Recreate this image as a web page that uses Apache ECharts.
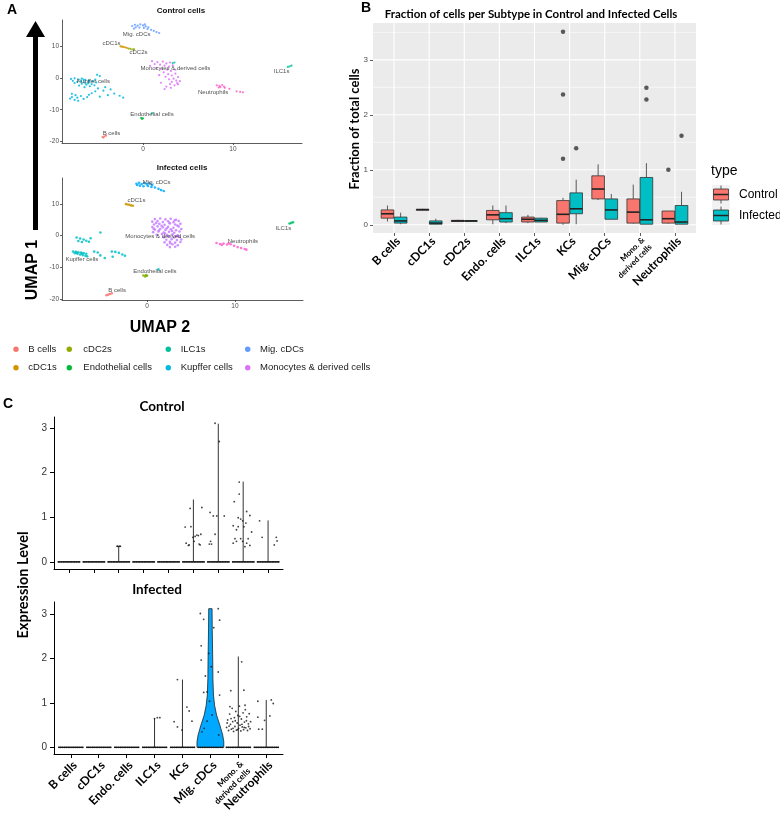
<!DOCTYPE html>
<html>
<head>
<meta charset="utf-8">
<script src="https://cdn.jsdelivr.net/npm/echarts@6/dist/echarts.min.js"></script>
<style>
html, body { margin: 0; padding: 0; background: #fff; }
#fig { width: 780px; height: 818px; }
</style>
</head>
<body>
<div id="fig"></div>
<script>
// ---------- A: UMAP ----------
var ctrlClusters = ['B cells', 'cDC1s', 'cDC2s', 'Endothelial cells', 'ILC1s', 'Kupffer cells', 'Mig. cDCs', 'Monocytes & derived cells', 'Neutrophils'];
var ctrlColors = ['#F8766D', '#D39200', '#93AA00', '#00BA38', '#00C19F', '#00B9E3', '#619CFF', '#DB72FB', '#FF61C3'];
var ctrlPts = [
  [[-4.5, -18.6], [-4.3, -18.4], [-4.1, -18.2], [-4.4, -18.8]],
  [[-2.5, 10.0], [-2.2, 9.8], [-2.0, 9.7], [-1.8, 9.5], [-2.35, 9.9]],
  [[-1.6, 9.3], [-1.4, 9.2], [-1.2, 9.0], [-1.0, 9.1]],
  [[-0.2, -12.6], [-0.1, -12.9], [0.0, -12.7]],
  [[16.3, 3.7], [16.5, 3.9], [16.1, 3.5], [3.3, 4.7], [3.5, 4.9], [1.0, -11.1]],
  [[-8.0, -0.3], [-7.6, -0.1], [-7.2, -0.4], [-6.8, -0.2], [-6.4, -0.6], [-6.0, -0.8], [-5.6, -1.0], [-5.3, -0.5],
   [-7.8, -0.9], [-7.3, -1.2], [-6.9, -1.0], [-6.5, -1.4], [-6.1, -1.7], [-5.7, -1.9], [-5.4, -2.3], [-6.3, -2.1],
   [-6.8, -1.8], [-7.1, -2.4], [-5.9, -2.6], [-6.5, -2.9], [-7.6, -1.6], [-5.2, -1.4], [-6.0, -1.2], [-6.6, -0.5],
   [-5.1, 1.0], [-4.8, 0.6], [-7.9, -5.0], [-7.5, -5.4], [-7.9, -6.0], [-7.3, -6.2], [-6.9, -5.7], [-6.6, -6.6],
   [-7.6, -6.9], [-8.1, -6.5], [-6.2, -6.0], [-6.0, -5.3], [-7.2, -7.2], [-5.7, -4.8], [-5.0, -3.3], [-4.4, -4.0],
   [-4.8, -5.9], [-3.9, -5.4], [-3.2, -4.9], [-2.6, -5.6], [-2.2, -6.2], [-5.3, -4.2], [-4.2, -2.9], [-3.6, -3.6]],
  [[-1.2, 16.4], [-0.9, 16.8], [-0.6, 16.5], [-0.3, 16.9], [0.0, 16.6], [0.3, 16.3], [0.6, 16.0], [-0.8, 16.0],
   [-0.4, 15.9], [0.1, 15.8], [0.5, 15.5], [0.9, 15.2], [1.2, 14.9], [1.5, 14.5], [1.8, 14.2], [-1.0, 15.6], [0.2, 16.9]],
  [[1.0, 5.3], [1.6, 5.0], [2.2, 5.2], [2.6, 4.6], [3.0, 4.9], [1.3, 4.4], [1.9, 4.2], [2.4, 3.9], [2.9, 3.6], [3.3, 4.0],
   [0.8, 3.8], [1.5, 3.2], [2.1, 2.9], [2.7, 2.6], [3.1, 2.2], [3.6, 2.6], [2.3, 1.8], [2.8, 1.2], [3.2, 0.8], [3.6, 1.4],
   [3.9, 0.3], [3.4, -0.2], [2.9, -0.4], [3.7, -0.8], [3.2, -1.2], [3.8, -1.6], [3.0, -1.9], [3.5, -2.3], [2.6, -2.7],
   [3.1, -3.1], [2.4, -3.5], [3.9, -2.0], [4.1, -1.0], [2.5, 0.4], [1.8, 0.9], [2.0, -1.5]],
  [[8.2, -2.3], [8.5, -2.5], [8.8, -2.2], [9.0, -2.7], [8.6, -2.9], [9.1, -3.1], [8.4, -3.0], [10.4, -4.2], [10.8, -4.4], [11.1, -4.5], [9.6, -3.4]]
];
var ctrlLabels = [[-0.7, 13.9, 'Mig. cDCs'], [-3.5, 10.9, 'cDC1s'], [-0.5, 8.0, 'cDC2s'], [3.6, 3.1, 'Monocytes & derived cells'],
  [15.4, 2.0, 'ILC1s'], [-5.5, -0.9, 'Kupffer cells'], [7.8, -4.5, 'Neutrophils'], [1.0, -11.5, 'Endothelial cells'], [-3.5, -17.4, 'B cells']];

var infClusters = ['B cells', 'cDC1s', 'Endothelial cells', 'ILC1s', 'Kupffer cells', 'Mig. cDCs', 'Monocytes & derived cells', 'Neutrophils'];
var infColors = ['#F8766D', '#CD9600', '#7CAE00', '#00BE67', '#00BFC4', '#00A9FF', '#C77CFF', '#FF61CC'];
var infPts = [
  [[-4.6, -18.7], [-4.4, -18.5], [-4.2, -18.3], [-4.0, -18.1]],
  [[-2.4, 9.9], [-2.2, 9.8], [-2.0, 9.7], [-1.8, 9.5], [-1.6, 9.4]],
  [[-0.4, -12.5], [-0.2, -12.8], [0.0, -12.6], [-0.1, -12.4]],
  [[16.4, 4.0], [16.6, 4.2], [16.2, 3.8]],
  [[-8.4, -5.0], [-8.1, -5.1], [-7.8, -5.2], [-7.5, -5.3], [-7.2, -5.5], [-6.9, -5.7], [-8.2, -5.5], [-7.9, -5.7],
   [-7.6, -5.9], [-7.3, -6.1], [-7.0, -6.3], [-6.8, -6.5], [-7.4, -5.6], [-8.0, -5.3], [-8.0, -0.6], [-7.6, -0.9],
   [-7.2, -1.2], [-6.9, -1.6], [-6.6, -1.9], [-7.8, -1.7], [-7.4, -2.0], [-6.4, -0.8], [-6.0, -5.0], [-5.6, -5.3],
   [-5.3, -6.2], [-4.8, -7.0], [-4.0, -5.0], [-3.6, -5.1], [-3.2, -5.4], [-2.8, -5.9], [-2.5, -6.3], [-3.9, -6.6],
   [-5.3, 1.0], [1.3, -10.6]],
  [[-1.2, 16.3], [-0.9, 16.6], [-0.6, 16.2], [-0.3, 16.5], [0.0, 16.1], [0.3, 16.4], [0.6, 15.9], [-0.8, 15.7],
   [-0.4, 15.5], [0.1, 15.6], [0.5, 15.3], [0.9, 15.1], [1.3, 14.7], [1.6, 14.3], [1.9, 14.0], [-1.1, 15.9]],
  [[0.9, 5.2], [1.5, 5.4], [2.1, 5.1], [2.7, 5.3], [3.3, 5.0], [0.6, 4.4], [1.2, 4.6], [1.8, 4.3], [2.4, 4.5], [3.0, 4.2],
   [3.6, 4.6], [0.8, 3.5], [1.4, 3.7], [2.0, 3.4], [2.6, 3.8], [3.2, 3.5], [3.8, 3.7], [0.6, 2.7], [1.2, 2.9], [1.8, 2.6],
   [2.4, 2.8], [3.0, 2.5], [3.6, 2.9], [0.9, 1.9], [1.5, 2.1], [2.1, 1.8], [2.7, 2.0], [3.3, 1.7], [3.9, 2.1], [0.7, 1.1],
   [1.3, 1.3], [1.9, 1.0], [2.5, 1.2], [3.1, 0.9], [3.7, 1.3], [1.1, 0.3], [1.7, 0.5], [2.3, 0.2], [2.9, 0.4], [3.5, 0.1],
   [1.9, -0.5], [2.5, -0.3], [3.1, -0.6], [3.7, -0.4], [2.2, -1.3], [2.8, -1.1], [3.4, -1.4], [3.9, -1.2], [2.0, -2.1],
   [2.6, -1.9], [3.2, -2.2], [3.8, -2.0], [2.3, -2.9], [2.9, -2.7], [3.5, -3.0], [2.6, -3.6], [3.2, -3.5], [1.05, 4.0],
   [1.65, 3.1], [2.25, 2.3], [2.85, 1.5], [3.45, 3.2], [1.35, 1.6], [2.55, 4.0], [3.15, 4.8], [0.75, 2.2], [2.05, 0.7],
   [3.35, -0.1], [2.65, -2.4]],
  [[7.9, -2.3], [8.3, -2.6], [8.7, -2.5], [9.1, -2.8], [9.5, -2.7], [8.5, -2.9], [9.9, -3.2], [10.3, -3.6], [10.7, -3.9], [11.1, -4.2], [11.3, -4.4], [9.3, -2.4]]
];
var infLabels = [[1.1, 16.7, 'Mig. cDCs'], [-1.2, 11.0, 'cDC1s'], [1.5, -0.2, 'Monocytes & derived cells'], [15.5, 2.2, 'ILC1s'],
  [10.9, -1.8, 'Neutrophils'], [-7.4, -7.5, 'Kupffer cells'], [0.9, -11.3, 'Endothelial cells'], [-3.4, -17.1, 'B cells']];

var umapYTicks = [-20, -10, 0, 10];
var umapXTicks = [0, 10];
var legendNames = ['B cells', 'cDC2s', 'ILC1s', 'Mig. cDCs', 'cDC1s', 'Endothelial cells', 'Kupffer cells', 'Monocytes & derived cells'];
var legendColors = ['#F8766D', '#93AA00', '#00C19F', '#619CFF', '#D39200', '#00BA38', '#00B9E3', '#DB72FB'];

// ---------- B: boxplots (min, q1, median, q3, max) ----------
var boxCats = ['B cells', 'cDC1s', 'cDC2s', 'Endo. cells', 'ILC1s', 'KCs', 'Mig. cDCs', 'Mono. & derived cells', 'Neutrophils'];
var boxCtrl = [
  [0.06, 0.12, 0.20, 0.27, 0.35], [0.26, 0.27, 0.275, 0.28, 0.29], [0.05, 0.06, 0.07, 0.08, 0.09],
  [0.01, 0.09, 0.18, 0.26, 0.35], [0.03, 0.05, 0.10, 0.14, 0.18], [0.00, 0.03, 0.19, 0.44, 0.49],
  [0.45, 0.47, 0.65, 0.89, 1.10], [0.02, 0.03, 0.23, 0.47, 0.73], [0.02, 0.03, 0.11, 0.25, 0.25]
];
var boxInf = [
  [0.01, 0.03, 0.07, 0.14, 0.22], [0.005, 0.01, 0.03, 0.07, 0.11], [0.06, 0.065, 0.07, 0.075, 0.08],
  [0.03, 0.05, 0.11, 0.22, 0.35], [0.05, 0.05, 0.08, 0.12, 0.13], [0.01, 0.20, 0.29, 0.58, 0.82],
  [0.10, 0.10, 0.27, 0.47, 0.56], [0.01, 0.01, 0.09, 0.86, 1.12], [0.01, 0.01, 0.05, 0.35, 0.60]
];
var outCtrl = [[6, 1.20], [6, 2.37], [6, 3.51], [9, 1.00]];
var outInf = [[6, 1.39], [8, 2.28], [8, 2.49], [9, 1.62]];
var boxMajorY = [0, 1, 2, 3];
var boxMinorY = [0.5, 1.5, 2.5, 3.5];

// ---------- C: violins ----------
var vlnCatsCtrl = ['B cells', 'cDC1s', 'cDC2s', 'Endo. cells', 'ILC1s', 'KCs', 'Mig. cDCs', 'Mono. & derived cells', 'Neutrophils'];
var vlnTopCtrl = [0, 0, 0.35, 0, 0, 1.4, 3.1, 1.8, 0.93];
var vlnCatsInf = ['B cells', 'cDC1s', 'Endo. cells', 'ILC1s', 'KCs', 'Mig. cDCs', 'Mono. & derived cells', 'Neutrophils'];
var vlnTopInf = [0, 0, 0, 0.65, 1.53, 0, 2.05, 1.07];
var migInfProfile = [[0, 0.48], [0.13, 0.48], [0.28, 0.44], [0.5, 0.34], [0.73, 0.22], [0.95, 0.15], [1.18, 0.11],
  [1.56, 0.09], [1.93, 0.085], [2.69, 0.066], [3.13, 0.06]];
var vlnTicks = [0, 1, 2, 3];
// [category (1-based), jitter, value]
var dotsCtrl = [
  [3, -0.05, 0.35], [3, 0.05, 0.35],
  [6, -0.33, 0.78], [6, -0.1, 0.79], [6, -0.13, 1.2], [6, 0.34, 1.22], [6, -0.29, 0.42], [6, -0.2, 0.37], [6, 0.03, 0.46],
  [6, 0.07, 0.57], [6, 0.14, 0.6], [6, 0.2, 0.59], [6, 0.27, 0.38], [6, 0.3, 0.62], [6, -0.02, 0.55], [6, -0.17, 0.38], [6, 0.23, 0.4],
  [7, -0.13, 3.11], [7, 0.04, 2.7], [7, -0.33, 1.11], [7, -0.2, 1.03], [7, -0.06, 1.03], [7, 0.24, 1.03], [7, -0.36, 0.4],
  [7, -0.27, 0.4], [7, -0.31, 0.46], [7, -0.13, 0.62],
  [8, -0.16, 1.79], [8, -0.16, 1.52], [8, -0.36, 1.35], [8, 0.14, 1.13], [8, 0.27, 1.04], [8, -0.1, 0.96], [8, -0.2, 0.99],
  [8, -0.4, 0.81], [8, -0.2, 0.79], [8, 0.03, 0.79], [8, -0.02, 0.92], [8, 0.11, 0.87], [8, -0.33, 0.52], [8, -0.27, 0.46],
  [8, -0.1, 0.52], [8, -0.02, 0.46], [8, 0.14, 0.42], [8, 0.2, 0.52], [8, 0.27, 0.37], [8, 0.34, 0.67], [8, -0.4, 0.42],
  [8, -0.27, 0.72], [8, 0.07, 0.34],
  [9, -0.34, 0.92], [9, -0.24, 0.55], [9, 0.33, 0.55], [9, 0.36, 0.47], [9, 0.25, 0.38]
];
var dotsInf = [
  [4, 0.1, 0.67], [4, 0.19, 0.67], [4, 0.0, 0.65],
  [5, -0.18, 1.53], [5, 0.16, 0.91], [5, 0.24, 0.82], [5, -0.3, 0.58], [5, 0.34, 0.59], [5, -0.18, 0.46], [5, -0.02, 0.39],
  [6, -0.36, 3.02], [6, 0.28, 3.13], [6, -0.24, 2.89], [6, 0.33, 2.87], [6, 0.12, 2.7], [6, -0.33, 2.29], [6, -0.06, 2.12],
  [6, -0.33, 1.97], [6, 0.03, 1.82], [6, -0.18, 1.61], [6, 0.28, 1.7], [6, -0.24, 1.24], [6, -0.12, 1.25], [6, 0.33, 1.18],
  [6, -0.03, 1.04], [6, -0.22, 0.43], [6, -0.3, 0.35], [6, 0.06, 0.73], [6, 0.3, 0.28], [6, -0.12, 0.59],
  [7, -0.42, 0.45], [7, -0.38, 0.62], [7, -0.35, 0.38], [7, -0.31, 0.75], [7, -0.28, 0.52], [7, -0.25, 0.41], [7, -0.22, 0.88],
  [7, -0.2, 0.58], [7, -0.17, 0.36], [7, -0.14, 0.67], [7, -0.12, 0.47], [7, -0.09, 0.81], [7, -0.07, 0.39], [7, -0.04, 0.55],
  [7, -0.02, 0.72], [7, 0.01, 0.43], [7, 0.04, 0.93], [7, 0.06, 0.5], [7, 0.09, 0.37], [7, 0.11, 0.64], [7, 0.14, 0.46],
  [7, 0.17, 0.78], [7, 0.19, 0.4], [7, 0.22, 0.57], [7, 0.25, 0.85], [7, 0.27, 0.44], [7, 0.3, 0.69], [7, 0.33, 0.38],
  [7, 0.36, 0.53], [7, 0.39, 0.76], [7, 0.42, 0.42], [7, -0.4, 0.55], [7, -0.33, 0.48], [7, -0.26, 0.65], [7, -0.19, 0.43],
  [7, -0.11, 0.6], [7, -0.03, 0.4], [7, 0.05, 0.7], [7, 0.13, 0.52], [7, 0.21, 0.45], [7, 0.29, 0.6], [7, 0.37, 0.47],
  [7, 0.44, 0.58], [7, -0.3, 0.92], [7, 0.24, 0.95], [7, -0.27, 1.28], [7, 0.2, 1.29], [7, 0.12, 1.93],
  [8, -0.3, 1.04], [8, 0.18, 1.07], [8, 0.25, 0.99], [8, -0.3, 0.68], [8, -0.06, 0.61], [8, 0.13, 0.71], [8, -0.27, 0.41], [8, -0.14, 0.41]
];
var zeroJitter = [-0.42, -0.36, -0.29, -0.22, -0.16, -0.09, -0.03, 0.04, 0.1, 0.17, 0.23, 0.3, 0.37, 0.43];

// ---------- layout / style constants ----------
var SANS = 'Liberation Sans, Arial, sans-serif';
var CAL = 'Lato, Open Sans, sans-serif';
var BOX_W = 0.36, BOX_OFF = 0.1875, VLN_BASE = 0.45;
var CTRL_FILL = '#F8766D', INF_FILL = '#00BFC4';

var myChart = echarts.init(document.getElementById('fig'));

function seg(a, b, stroke, w) {
  return { type: 'line', shape: { x1: a[0], y1: a[1], x2: b[0], y2: b[1] }, style: { stroke: stroke, lineWidth: w } };
}
function idx(arr) { return arr.map(function (c, i) { return i + 1; }); }

function umapAxis(grid, min, max, ticks) {
  return {
    gridIndex: grid, type: 'value', min: min, max: max,
    axisLine: { show: true, onZero: false, lineStyle: { color: '#333', width: 0.8 } },
    axisTick: { show: true, length: 2, customValues: ticks, lineStyle: { color: '#333', width: 0.8 } },
    axisLabel: { customValues: ticks, fontSize: 6.5, color: '#4D4D4D', margin: 3, fontFamily: SANS },
    splitLine: { show: false }
  };
}
function catLabel(cats) {
  return function (v) {
    var n = cats[Math.round(v) - 1];
    if (n === 'Mono. & derived cells') return '{s|Mono. &}\n{s|derived cells}';
    return n;
  };
}

// boxes
function boxRenderer(fill, off) {
  return function (params, api) {
    var x = api.value(0) + off;
    var hw = api.size([BOX_W, 0])[0] / 2;
    var pMin = api.coord([x, api.value(1)]), pQ1 = api.coord([x, api.value(2)]);
    var pMed = api.coord([x, api.value(3)]), pQ3 = api.coord([x, api.value(4)]), pMax = api.coord([x, api.value(5)]);
    var cx = pMin[0];
    return {
      type: 'group', children: [
        seg([cx, pMax[1]], [cx, pQ3[1]], '#333', 0.8),
        seg([cx, pQ1[1]], [cx, pMin[1]], '#333', 0.8),
        { type: 'rect', shape: { x: cx - hw, y: pQ3[1], width: 2 * hw, height: Math.max(pQ1[1] - pQ3[1], 0.8) },
          style: { fill: fill, stroke: '#333', lineWidth: 0.8 } },
        seg([cx - hw, pMed[1]], [cx + hw, pMed[1]], '#222', 1.6)
      ]
    };
  };
}
function boxGrid(params, api) {
  var ch = [];
  boxMinorY.forEach(function (v) { ch.push(seg(api.coord([0.4, v]), api.coord([9.6, v]), '#fff', 0.6)); });
  boxMajorY.forEach(function (v) { ch.push(seg(api.coord([0.4, v]), api.coord([9.6, v]), '#fff', 1.1)); });
  idx(boxCats).forEach(function (v) { ch.push(seg(api.coord([v, -0.15]), api.coord([v, 3.67]), '#fff', 1.1)); });
  return { type: 'group', children: ch };
}

// violins
function thinViolin(params, api) {
  var pos = api.value(0), top = api.value(1);
  var b = api.coord([pos, 0]);
  var hw = api.size([VLN_BASE, 0])[0];
  var ch = [seg([b[0] - hw, b[1]], [b[0] + hw, b[1]], '#222', 1.3)];
  if (top > 0) {
    var t = api.coord([pos, top]);
    ch.push(seg(b, t, '#333', 1));
    if (api.value(2) > 0) {
      var cw = api.size([api.value(2), 0])[0];
      ch.push(seg([t[0] - cw, t[1]], [t[0] + cw, t[1]], '#222', 1));
    }
  }
  return { type: 'group', children: ch };
}
function migViolin(params, api) {
  var pos = api.value(0);
  var left = migInfProfile.map(function (p) { return api.coord([pos - p[1], p[0]]); });
  var right = migInfProfile.slice().reverse().map(function (p) { return api.coord([pos + p[1], p[0]]); });
  return { type: 'polygon', shape: { points: left.concat(right) }, style: { fill: '#00A9FF', stroke: '#222', lineWidth: 0.8 } };
}
function zeroDots(cats) {
  var out = [];
  idx(cats).forEach(function (c) { zeroJitter.forEach(function (j) { out.push([c + j, 0]); }); });
  return out;
}

var series = [];
// A scatter
ctrlClusters.forEach(function (name, i) {
  series.push({ type: 'scatter', name: name, xAxisIndex: 0, yAxisIndex: 0, data: ctrlPts[i], symbolSize: 2.2,
    itemStyle: { color: ctrlColors[i], opacity: 0.85 }, silent: true });
});
infClusters.forEach(function (name, i) {
  series.push({ type: 'scatter', name: name, xAxisIndex: 1, yAxisIndex: 1, data: infPts[i], symbolSize: 2.6,
    itemStyle: { color: infColors[i], opacity: 0.85 }, silent: true });
});
[[ctrlLabels, 0], [infLabels, 1]].forEach(function (p) {
  series.push({ type: 'scatter', xAxisIndex: p[1], yAxisIndex: p[1], symbolSize: 0, silent: true, z: 5,
    data: p[0].map(function (l) { return { value: [l[0], l[1]], name: l[2] }; }),
    label: { show: true, position: 'inside', formatter: '{b}', fontSize: 6, color: '#222', fontFamily: SANS } });
});
// B
series.push({ type: 'custom', xAxisIndex: 2, yAxisIndex: 2, data: [[1, 0]], renderItem: boxGrid, silent: true, z: 1 });
series.push({ type: 'custom', xAxisIndex: 2, yAxisIndex: 2, silent: true, z: 3,
  data: boxCtrl.map(function (b, i) { return [i + 1].concat(b); }), renderItem: boxRenderer(CTRL_FILL, -BOX_OFF) });
series.push({ type: 'custom', xAxisIndex: 2, yAxisIndex: 2, silent: true, z: 3,
  data: boxInf.map(function (b, i) { return [i + 1].concat(b); }), renderItem: boxRenderer(INF_FILL, BOX_OFF) });
series.push({ type: 'scatter', xAxisIndex: 2, yAxisIndex: 2, silent: true, z: 4, symbolSize: 4.5, itemStyle: { color: '#333' },
  data: outCtrl.map(function (o) { return [o[0] - BOX_OFF, o[1]]; }).concat(outInf.map(function (o) { return [o[0] + BOX_OFF, o[1]]; })) });
// C top
series.push({ type: 'custom', xAxisIndex: 3, yAxisIndex: 3, silent: true, z: 2, renderItem: thinViolin,
  data: vlnTopCtrl.map(function (t, i) { return [i + 1, t, t > 0 && t < 0.5 ? 0.1 : 0]; }) });
series.push({ type: 'scatter', xAxisIndex: 3, yAxisIndex: 3, silent: true, z: 4, symbolSize: 1.8, itemStyle: { color: '#111' },
  data: zeroDots(vlnCatsCtrl).concat(dotsCtrl.map(function (d) { return [d[0] + d[1], d[2]]; })) });
// C bottom
series.push({ type: 'custom', xAxisIndex: 4, yAxisIndex: 4, silent: true, z: 2, renderItem: thinViolin,
  data: vlnTopInf.map(function (t, i) { return [i + 1, t, 0]; }) });
series.push({ type: 'custom', xAxisIndex: 4, yAxisIndex: 4, silent: true, z: 3, renderItem: migViolin,
  data: [[vlnCatsInf.indexOf('Mig. cDCs') + 1]] });
series.push({ type: 'scatter', xAxisIndex: 4, yAxisIndex: 4, silent: true, z: 4, symbolSize: 1.8, itemStyle: { color: '#111' },
  data: zeroDots(vlnCatsInf).concat(dotsInf.map(function (d) { return [d[0] + d[1], d[2]]; })) });

// graphics: titles, arrow, legends
var graphics = [
  { type: 'text', x: 12, y: 10, style: { text: 'A', font: 'bold 14px ' + SANS, fill: '#000', align: 'center', verticalAlign: 'middle' } },
  { type: 'text', x: 366, y: 8, style: { text: 'B', font: 'bold 14px ' + SANS, fill: '#000', align: 'center', verticalAlign: 'middle' } },
  { type: 'text', x: 8, y: 404, style: { text: 'C', font: 'bold 14px ' + SANS, fill: '#000', align: 'center', verticalAlign: 'middle' } },
  { type: 'text', x: 181, y: 11, style: { text: 'Control cells', font: 'bold 8px ' + SANS, fill: '#111', align: 'center', verticalAlign: 'middle' } },
  { type: 'text', x: 182, y: 168, style: { text: 'Infected cells', font: 'bold 8px ' + SANS, fill: '#111', align: 'center', verticalAlign: 'middle' } },
  { type: 'polygon', shape: { points: [[26, 37], [35.5, 21], [45, 37]] }, style: { fill: '#000' } },
  { type: 'rect', shape: { x: 33, y: 36, width: 5, height: 194 }, style: { fill: '#000' } },
  { type: 'text', x: 33, y: 270, rotation: Math.PI / 2, style: { text: 'UMAP 1', font: 'bold 16px ' + SANS, fill: '#000', align: 'center', verticalAlign: 'middle' } },
  { type: 'text', x: 160, y: 328, style: { text: 'UMAP 2', font: 'bold 16px ' + SANS, fill: '#000', align: 'center', verticalAlign: 'middle' } },
  { type: 'text', x: 531, y: 14, style: { text: 'Fraction of cells per Subtype in Control and Infected Cells', font: 'bold 11.5px ' + CAL, fill: '#000', align: 'center', verticalAlign: 'middle' } },
  { type: 'text', x: 355, y: 129, rotation: Math.PI / 2, style: { text: 'Fraction of total cells', font: 'bold 13px ' + CAL, fill: '#000', align: 'center', verticalAlign: 'middle' } },
  { type: 'text', x: 711, y: 171, style: { text: 'type', font: '14px ' + SANS, fill: '#000', align: 'left', verticalAlign: 'middle' } },
  { type: 'rect', shape: { x: 712, y: 185, width: 18, height: 40 }, style: { fill: '#F2F2F2' } },
  { type: 'text', x: 739, y: 195, style: { text: 'Control', font: '12px ' + SANS, fill: '#000', align: 'left', verticalAlign: 'middle' } },
  { type: 'text', x: 739, y: 216, style: { text: 'Infected', font: '12px ' + SANS, fill: '#000', align: 'left', verticalAlign: 'middle' } },
  { type: 'text', x: 162, y: 407, style: { text: 'Control', font: 'bold 13.5px ' + CAL, fill: '#000', align: 'center', verticalAlign: 'middle' } },
  { type: 'text', x: 157, y: 590, style: { text: 'Infected', font: 'bold 13.5px ' + CAL, fill: '#000', align: 'center', verticalAlign: 'middle' } },
  { type: 'text', x: 23, y: 585, rotation: Math.PI / 2, style: { text: 'Expression Level', font: 'bold 14.5px ' + CAL, fill: '#000', align: 'center', verticalAlign: 'middle' } }
];
[[CTRL_FILL, 194.5], [INF_FILL, 215.5]].forEach(function (k) {
  graphics.push({ type: 'line', shape: { x1: 721, y1: k[1] - 9, x2: 721, y2: k[1] + 9 }, style: { stroke: '#333', lineWidth: 0.8 } });
  graphics.push({ type: 'rect', shape: { x: 713.5, y: k[1] - 5.5, width: 15, height: 11 }, style: { fill: k[0], stroke: '#333', lineWidth: 0.8 } });
  graphics.push({ type: 'line', shape: { x1: 713.5, y1: k[1], x2: 728.5, y2: k[1] }, style: { stroke: '#222', lineWidth: 1.5 } });
});
var legDotX = [16, 69.3, 168.3, 247.7], legTextX = [28.3, 83.3, 180.7, 260], legRowY = [349.3, 367.7];
legendNames.forEach(function (n, i) {
  var c = i % 4, r = Math.floor(i / 4);
  graphics.push({ type: 'circle', shape: { cx: legDotX[c], cy: legRowY[r], r: 2.7 }, style: { fill: legendColors[i] } });
  graphics.push({ type: 'text', x: legTextX[c], y: legRowY[r], style: { text: n, font: '9.5px ' + SANS, fill: '#1A1A1A', align: 'left', verticalAlign: 'middle' } });
});

var option = {
  animation: false,
  backgroundColor: '#fff',
  grid: [
    { left: 62, top: 20, width: 240, height: 123 },
    { left: 62, top: 178, width: 241, height: 122 },
    { left: 373, top: 23, width: 323, height: 210, show: true, backgroundColor: '#EBEBEB', borderWidth: 0 },
    { left: 54, top: 417, width: 229, height: 152 },
    { left: 54, top: 602, width: 229, height: 152 }
  ].map(function (g) { return Object.assign({ containLabel: false, outerBoundsMode: 'none' }, g); }),
  xAxis: [
    umapAxis(0, -9.0, 17.67, umapXTicks),
    umapAxis(1, -9.66, 17.73, umapXTicks),
    {
      gridIndex: 2, type: 'value', min: 0.4, max: 9.6,
      axisLine: { show: false, onZero: false },
      axisTick: { show: true, length: 3, customValues: idx(boxCats), lineStyle: { color: '#333', width: 0.8 } },
      axisLabel: { customValues: idx(boxCats), formatter: catLabel(boxCats), rotate: 45, margin: 2, interval: 0, verticalAlign: 'top',
        fontFamily: CAL, fontWeight: 'bold', fontSize: 12, color: '#000',
        rich: { s: { fontFamily: CAL, fontWeight: 'bold', fontSize: 8, lineHeight: 10, color: '#000', align: 'right' } } },
      splitLine: { show: false }
    },
    {
      gridIndex: 3, type: 'value', min: 0.4, max: 9.6,
      axisLine: { show: true, onZero: false, lineStyle: { color: '#000', width: 1 } },
      axisTick: { show: true, length: 4, customValues: idx(vlnCatsCtrl), lineStyle: { color: '#000', width: 1 } },
      axisLabel: { show: false }, splitLine: { show: false }
    },
    {
      gridIndex: 4, type: 'value', min: 0.4, max: 8.6,
      axisLine: { show: true, onZero: false, lineStyle: { color: '#000', width: 1 } },
      axisTick: { show: true, length: 4, customValues: idx(vlnCatsInf), lineStyle: { color: '#000', width: 1 } },
      axisLabel: { customValues: idx(vlnCatsInf), formatter: catLabel(vlnCatsInf), rotate: 45, margin: 5, interval: 0, verticalAlign: 'top',
        fontFamily: CAL, fontWeight: 'bold', fontSize: 12, color: '#000',
        rich: { s: { fontFamily: CAL, fontWeight: 'bold', fontSize: 8.5, lineHeight: 10, color: '#000', align: 'right' } } },
      splitLine: { show: false }
    }
  ],
  yAxis: [
    umapAxis(0, -20.5, 18.3, umapYTicks),
    umapAxis(1, -20.2, 18.1, umapYTicks),
    {
      gridIndex: 2, type: 'value', min: -0.15, max: 3.67,
      axisLine: { show: false, onZero: false },
      axisTick: { show: true, length: 3, customValues: boxMajorY, lineStyle: { color: '#333', width: 0.8 } },
      axisLabel: { customValues: boxMajorY, fontSize: 8, color: '#4D4D4D', margin: 5, fontFamily: SANS },
      splitLine: { show: false }
    },
    {
      gridIndex: 3, type: 'value', min: -0.16, max: 3.25,
      axisLine: { show: true, onZero: false, lineStyle: { color: '#000', width: 1 } },
      axisTick: { show: true, length: 4, customValues: vlnTicks, lineStyle: { color: '#000', width: 1 } },
      axisLabel: { customValues: vlnTicks, fontSize: 10, color: '#333', margin: 7, fontFamily: SANS },
      splitLine: { show: false }
    },
    {
      gridIndex: 4, type: 'value', min: -0.15, max: 3.28,
      axisLine: { show: true, onZero: false, lineStyle: { color: '#000', width: 1 } },
      axisTick: { show: true, length: 4, customValues: vlnTicks, lineStyle: { color: '#000', width: 1 } },
      axisLabel: { customValues: vlnTicks, fontSize: 10, color: '#333', margin: 7, fontFamily: SANS },
      splitLine: { show: false }
    }
  ],
  series: series,
  graphic: { elements: graphics }
};

myChart.setOption(option);
</script>
</body>
</html>
